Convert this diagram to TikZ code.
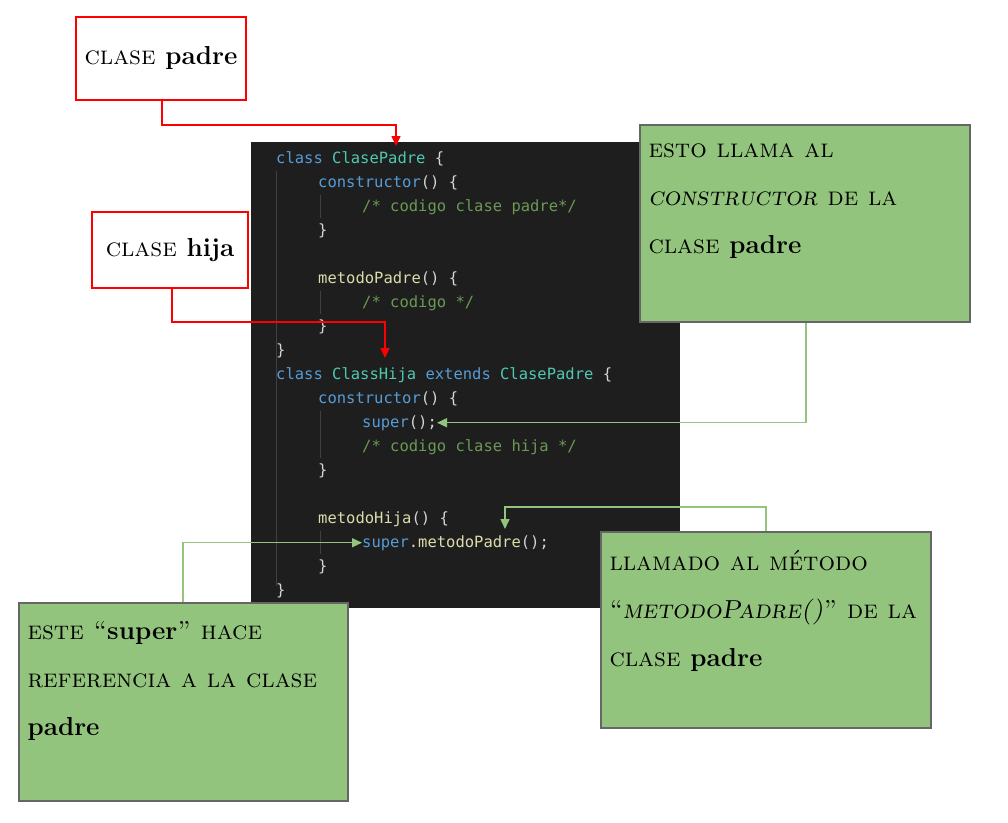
\documentclass[tikz,border=0pt]{standalone}
\usepackage{fontspec}
\setmonofont{DejaVu Sans Mono}
\usetikzlibrary{arrows.meta}
\definecolor{codebg}{HTML}{1E1E1E}
\definecolor{kwblue}{HTML}{569CD6}
\definecolor{clsteal}{HTML}{4EC9B0}
\definecolor{fnyellow}{HTML}{DCDCAA}
\definecolor{cmtgreen}{HTML}{6A9955}
\definecolor{brace}{HTML}{D4D4D4}
\definecolor{notegreen}{HTML}{93C47D}
\definecolor{notegray}{HTML}{666666}
\definecolor{guide}{HTML}{404040}
\tikzset{
  redbox/.style={draw=red, line width=1.5pt, fill=white},
  notebox/.style={draw=notegray, line width=1.5pt, fill=notegreen},
  label/.style={font=\fontsize{26}{48}\selectfont\scshape, align=left, anchor=north west},
  code/.style={font=\ttfamily\fontsize{15.5}{18}\selectfont, anchor=base west, inner sep=0},
  redarrow/.style={red, line width=1.5pt, -{Triangle[length=10pt,width=9pt]}},
  greenarrow/.style={notegreen, line width=1.5pt, -{Triangle[length=10pt,width=9pt]}}
}
\newcommand{\kw}[1]{\textcolor{kwblue}{#1}}
\newcommand{\cl}[1]{\textcolor{clsteal}{#1}}
\newcommand{\fn}[1]{\textcolor{fnyellow}{#1}}
\newcommand{\cm}[1]{\textcolor{cmtgreen}{#1}}
\newcommand{\br}[1]{\textcolor{brace}{#1}}
\begin{document}
\begin{tikzpicture}[x=1pt, y=-1pt]
\useasboundingbox (0,0) rectangle (1008,822);
% Code panel
    \fill[codebg] (251,142) rectangle (680,608);
    \draw[guide] (276,171) -- (276,586);
    \draw[guide] (320,195) -- (320,218);
    \draw[guide] (320,291) -- (320,314);
    \draw[guide] (320,411) -- (320,458);
    \draw[guide] (320,531) -- (320,554);
    \node[code] (c1) at (276,163) {\kw{class} \cl{ClasePadre} \br{\{}};
    \node[code] (c2) at (318,187) {\kw{constructor}\br{() \{}};
    \node[code] (c3) at (362,211) {\cm{/* codigo clase padre*/}};
    \node[code] (c4) at (318,235) {\br{\}}};
    \node[code] (c5) at (318,283) {\fn{metodoPadre}\br{() \{}};
    \node[code] (c6) at (362,307) {\cm{/* codigo */}};
    \node[code] (c7) at (318,331) {\br{\}}};
    \node[code] (c8) at (276,355) {\br{\}}};
    \node[code] (c9) at (276,379) {\kw{class} \cl{ClassHija} \kw{extends} \cl{ClasePadre} \br{\{}};
    \node[code] (c10) at (318,403) {\kw{constructor}\br{() \{}};
    \node[code] (c11) at (362,427) {\kw{super}\br{();}};
    \node[code] (c12) at (362,451) {\cm{/* codigo clase hija */}};
    \node[code] (c13) at (318,475) {\br{\}}};
    \node[code] (c14) at (318,523) {\fn{metodoHija}\br{() \{}};
    \node[code] (c15) at (362,547) {\kw{super}\br{.}\fn{metodoPadre}\br{();}};
    \node[code] (c16) at (318,571) {\br{\}}};
    \node[code] (c17) at (276,595) {\br{\}}};
% Red labels
    \draw[redbox] (76,17) rectangle (246,100);
    \node[label, anchor=center] (padre) at (161,58) {clase \textbf{padre}};
    \draw[redbox] (92,212) rectangle (248,288);
    \node[label, anchor=center] (hija) at (170,250) {clase \textbf{hija}};
    \coordinate (padreout) at (162,101);
    \coordinate (padrein) at (396,146);
    \coordinate (hijaout) at (172,289);
    \coordinate (hijain) at (385,358);
    \draw[redarrow] (padreout) |- (254,125) -| (padrein);
    \draw[redarrow] (hijaout) |- (254,322) -| (hijain);
% Green notes
    \draw[notebox] (640,125) rectangle (970,322);
    \node[label] (noteA) at (645,140) {esto llama al\\\textit{constructor} de la\\clase \textbf{padre}};
    \draw[notebox] (601,532) rectangle (931,728);
    \node[label] (noteB) at (606,547) {llamado al método\\``\textit{metodoPadre()}'' de la\\clase \textbf{padre}};
    \draw[notebox] (19,603) rectangle (348,801);
    \node[label] (noteC) at (24,618) {este ``\textbf{super}'' hace\\referencia a la clase\\\textbf{padre}};
    \coordinate (aout) at (806,323);
    \coordinate (bout) at (766,531);
    \coordinate (cout) at (183,602);
    \draw[greenarrow] (aout) |- (c11.east);
    \draw[greenarrow] (bout) |- (505,507) -- (505,529);
    \draw[greenarrow] (cout) |- (c15.west);
\end{tikzpicture}
\end{document}
